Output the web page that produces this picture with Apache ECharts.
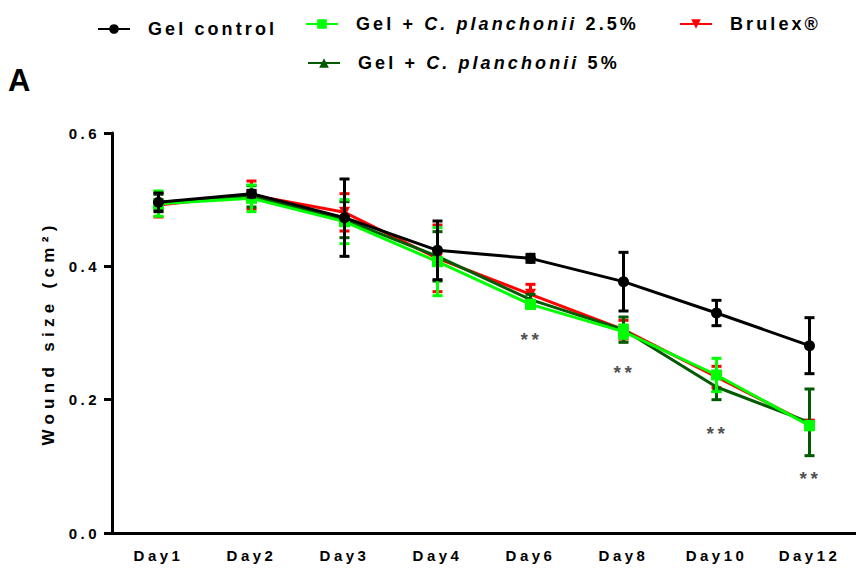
<!DOCTYPE html>
<html><head><meta charset="utf-8">
<script src="https://cdn.jsdelivr.net/npm/echarts@6/dist/echarts.min.js"></script>
<style>html,body{margin:0;padding:0;background:#fff}#chart{width:856px;height:569px}</style>
</head><body><div id="chart"></div>
<script>
// ---- data ----
const categories = ['Day1','Day2','Day3','Day4','Day6','Day8','Day10','Day12'];
const gelControl    = [0.496,0.509,0.473,0.424,0.412,0.377,0.330,0.281];
const gelControlErr = [0.014,0.005,0.058,0.044,0.006,0.044,0.019,0.042];
const cp25          = [0.494,0.502,0.467,0.407,0.343,0.302,0.237,0.161];
const cp25Err       = [0.019,0.020,0.033,0.051,0.006,0.010,0.025,0.006];
const brulex        = [0.492,0.507,0.481,0.412,0.358,0.305,0.234,0.163];
const brulexErr     = [0.018,0.021,0.028,0.050,0.015,0.014,0.016,0.006];
const cp5           = [0.496,0.505,0.470,0.415,0.350,0.305,0.219,0.166];
const cp5Err        = [0.012,0.016,0.027,0.037,0.008,0.019,0.019,0.050];
const sigDays  = ['Day6','Day8','Day10','Day12'];
const sigY     = [0.296,0.247,0.155,0.088];
const sigText  = '**';
const yTicks   = [0.0,0.2,0.4,0.6];
const seriesNames = ['Gel control','Gel + C. planchonii 2.5%','Brulex®','Gel + C. planchonii 5%'];

// ---- style ----
const FONT = "'Liberation Sans',Arial,sans-serif";
const LS = {18:3.1, 17:5.3, 15:3.5, 19:3.5};
const mctx = document.createElement('canvas').getContext('2d');
function tw(str, size, italic, ls){
  mctx.font = (italic?'italic ':'') + 'bold ' + size + 'px ' + FONT;
  mctx.letterSpacing = ls + 'px';
  return mctx.measureText(str).width;
}
const LF = 18, LL = LS[18];
const rich = {
  a:{fontFamily:FONT,fontWeight:'bold',fontSize:LF,color:'#000',width:tw('Gel + ',LF,false,LL)},
  i:{fontFamily:FONT,fontWeight:'bold',fontSize:LF,fontStyle:'italic',color:'#000',width:tw('C. planchonii ',LF,true,LL)},
  n:{fontFamily:FONT,fontWeight:'bold',fontSize:LF,color:'#000'}
};
function legendFmt(name){
  const m = name.match(/^Gel \+ C\. planchonii (.*)$/);
  if (m) return '{a|Gel +}{i|C. planchonii}{n|' + m[1] + '}';
  return '{n|' + name + '}';
}
function legendAt(name, left, top){
  return {data:[name], left, top, padding:0, itemWidth:32, itemHeight:12, formatter:legendFmt,
    textStyle:{fontFamily:FONT,fontWeight:'bold',fontSize:LF,color:'#000',padding:[0,0,0,13],rich}};
}
function makeErr(vals, errs, color, z){
  return {type:'custom', z, silent:true, data: vals.map((v,i)=>[i,v,errs[i]]),
    encode:{x:0,y:1},
    renderItem(params, api){
      const x = api.value(0), v = api.value(1), e = api.value(2);
      const p1 = api.coord([x, v+e]), p2 = api.coord([x, v-e]);
      const hw = 5, st = {stroke:color, lineWidth:3};
      return {type:'group', children:[
        {type:'line', shape:{x1:p1[0],y1:p1[1],x2:p2[0],y2:p2[1]}, style:st},
        {type:'line', shape:{x1:p1[0]-hw,y1:p1[1],x2:p1[0]+hw,y2:p1[1]}, style:st},
        {type:'line', shape:{x1:p2[0]-hw,y1:p2[1],x2:p2[0]+hw,y2:p2[1]}, style:st}
      ]};
    }};
}
function makeLine(name, vals, color, symbol, size, z){
  return {type:'line', name, data: vals, z, symbol, symbolSize:size, showSymbol:true,
    itemStyle:{color}, lineStyle:{color, width:3}, emphasis:{disabled:true}};
}
const C_BLACK='#000000', C_GREEN='#00ff00', C_RED='#ff0000', C_DARK='#005a00';

const chart = echarts.init(document.getElementById('chart'), null, {renderer:'svg'});
chart.setOption({
  animation:false,
  backgroundColor:'#fff',
  title:{text:'A', left:3, top:60, textStyle:{fontFamily:FONT,fontSize:31,fontWeight:'bold',color:'#000'}},
  legend:[
    legendAt(seriesNames[0], 97, 20),
    legendAt(seriesNames[1], 305, 15),
    legendAt(seriesNames[2], 679, 15),
    legendAt(seriesNames[3], 307, 54)
  ],
  grid:{left:112, right:-2, top:133, bottom:36, containLabel:false},
  xAxis:{type:'category', data:categories, boundaryGap:true,
    axisLine:{lineStyle:{color:'#000', width:3}},
    axisTick:{alignWithLabel:true, length:8, lineStyle:{color:'#000', width:3}},
    axisLabel:{interval:0, margin:15, color:'#000', fontFamily:FONT, fontWeight:'bold', fontSize:15}},
  yAxis:{type:'value', min:yTicks[0], max:yTicks[yTicks.length-1], interval:0.2,
    name:'Wound size (cm²)', nameLocation:'middle', nameGap:55,
    nameTextStyle:{color:'#000', fontFamily:FONT, fontWeight:'bold', fontSize:17},
    axisLine:{show:true, lineStyle:{color:'#000', width:3}},
    axisTick:{show:true, length:8, lineStyle:{color:'#000', width:3}},
    splitLine:{show:false},
    axisLabel:{margin:12, color:'#000', fontFamily:FONT, fontWeight:'bold', fontSize:15,
      formatter: v => v.toFixed(1)}},
  series:[
    makeErr(brulex, brulexErr, C_RED, 2),
    makeLine(seriesNames[2], brulex, C_RED, 'path://M0,0 L10,0 L5,9 Z', 11, 2),
    makeErr(cp5, cp5Err, C_DARK, 3),
    makeLine(seriesNames[3], cp5, C_DARK, 'triangle', 11, 3),
    makeErr(cp25, cp25Err, C_GREEN, 4),
    makeLine(seriesNames[1], cp25, C_GREEN, 'rect', 11, 4),
    makeErr(gelControl, gelControlErr, C_BLACK, 5),
    makeLine(seriesNames[0], gelControl, C_BLACK, 'circle', 11, 5),
    {type:'scatter', z:6, silent:true, symbolSize:0, itemStyle:{color:'rgba(0,0,0,0)'},
     data: sigDays.map((d,i)=>[d, sigY[i]]),
     label:{show:true, position:'inside', offset:[1,4], formatter:()=>sigText, color:'#222',
       fontFamily:FONT, fontWeight:'bold', fontSize:19}}
  ]
});
function applyLS(){
  document.querySelectorAll('#chart svg text, #chart svg tspan').forEach(t=>{
    const fs = Math.round(parseFloat(getComputedStyle(t).fontSize));
    const ls = LS[fs];
    if (ls != null && t.getAttribute('letter-spacing') !== String(ls)) t.setAttribute('letter-spacing', ls);
  });
}
applyLS();
new MutationObserver(applyLS).observe(document.getElementById('chart'), {subtree:true, childList:true, attributes:true});
setTimeout(applyLS, 50);
requestAnimationFrame(applyLS);
</script></body></html>
